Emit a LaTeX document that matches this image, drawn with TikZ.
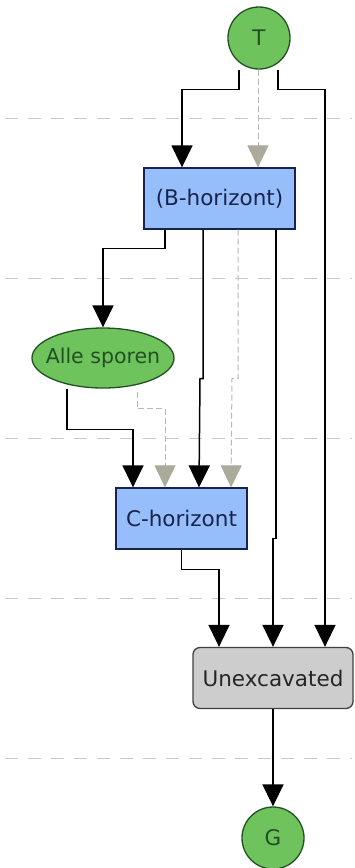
\documentclass[tikz,border=0pt]{standalone}
\usepackage{fontspec}
\setmainfont{DejaVu Sans}
\usetikzlibrary{arrows.meta,positioning,shapes.geometric}

\definecolor{nodegreen}{RGB}{110,195,92}
\definecolor{greenline}{RGB}{35,80,35}
\definecolor{boxblue}{RGB}{150,190,250}
\definecolor{navyline}{RGB}{25,35,75}
\definecolor{boxgray}{RGB}{205,205,205}
\definecolor{tipgray}{RGB}{172,170,155}
\definecolor{rulegray}{RGB}{200,200,200}

\begin{document}
\begin{tikzpicture}[
  x=1pt, y=-1pt,
  font=\fontsize{21.5}{24}\selectfont,
  endpoint/.style={draw=greenline, line width=1.3pt, circle, fill=nodegreen, minimum size=62pt, inner sep=0pt, text=greenline},
  spoor/.style={draw=greenline, line width=1.3pt, ellipse, fill=nodegreen, minimum width=142pt, minimum height=60pt, inner sep=0pt, text=greenline},
  horizont/.style={draw=navyline, line width=1.3pt, rectangle, fill=boxblue, minimum width=#1, minimum height=61pt, inner sep=0pt, text=navyline},
  rest/.style={draw=black!75, line width=1.3pt, rectangle, rounded corners=7pt, fill=boxgray, minimum width=160pt, minimum height=61pt, inner sep=0pt, text=black!85},
  line/.style={-{Triangle[length=22pt,width=21pt]}, line width=1.5pt},
  softline/.style={line width=1pt, dash pattern=on 6pt off 3pt, color=black!28, arrows={-{Triangle[length=22pt,width=21pt,color=tipgray]}}},
  phase/.style={rulegray, line width=1pt, dash pattern=on 13pt off 10pt}
]
\useasboundingbox (0,0) rectangle (355,868);

% phase separators
\foreach \y in {118,278,438,598,758}
  \draw[phase] (5,\y) -- (352,\y);

\node[endpoint] (T) at (259,38) {T};
\node[horizont=151pt] (B) at (219.5,198.5) {(B-horizont)};
\node[spoor] (alle) at (103,358) {\makebox[0pt]{\fontsize{20.5}{24}\selectfont Alle sporen}};
\node[horizont=131pt] (C) at (181.5,518.5) {C-horizont};
\node[rest] (unexc) at (273,678) {Unexcavated};
\node[endpoint] (G) at (273,838) {G};

\draw[line] ([xshift=-20pt]T.south) -- ++(0,20) -| ([xshift=-37.5pt]B.north);
\draw[softline] ([xshift=-1pt]T.south) -- ([xshift=38.5pt]B.north);
\draw[line] ([xshift=19pt]T.south) -- ++(0,20) -| ([xshift=52pt]unexc.north);

\draw[line] ([xshift=-54.5pt]B.south) -- ++(0,19) -| (alle.north);
\draw[line] ([xshift=-16.5pt]B.south) -- ++(0,149) -- ++(-3,0) -- ([xshift=17.5pt]C.north);
\draw[softline] ([xshift=18.5pt]B.south) -- ++(0,149) -- ++(-6,0) -- ([xshift=49.5pt]C.north);
\draw[line] ([xshift=56.5pt]B.south) -- ++(0,309) -- ++(-3,0) -- (unexc.north);

\draw[line] ([xshift=-36pt]alle.south) -- ++(0,41) -| ([xshift=-48.5pt]C.north);
\draw[softline] ([xshift=34pt,yshift=-3pt]alle.south) -- ++(0,17) -| ([xshift=-16.5pt]C.north);

\draw[line] (C.south) -- ++(0,20) -| ([xshift=-54pt]unexc.north);
\draw[line] (unexc) -- (G);
\end{tikzpicture}
\end{document}
